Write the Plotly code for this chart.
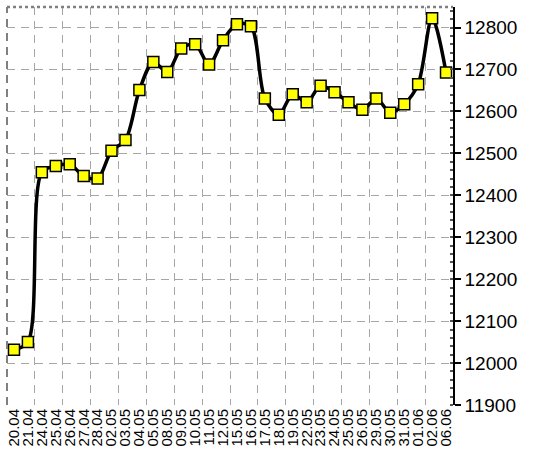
import plotly.graph_objects as go

dates = ["20.04", "21.04", "24.04", "25.04", "26.04", "27.04", "28.04",
         "02.05", "03.05", "04.05", "05.05", "08.05", "09.05", "10.05",
         "11.05", "12.05", "15.05", "16.05", "17.05", "18.05", "19.05",
         "22.05", "23.05", "24.05", "25.05", "26.05", "29.05", "30.05",
         "31.05", "01.06", "02.06", "06.06"]
values = [12032, 12050, 12455, 12470, 12474, 12446, 12440,
          12506, 12532, 12651, 12718, 12694, 12750, 12760,
          12712, 12770, 12808, 12803, 12631, 12592, 12641,
          12622, 12661, 12646, 12622, 12604, 12631, 12597,
          12617, 12665, 12822, 12693]
y_ticks = [11900, 12000, 12100, 12200, 12300, 12400, 12500, 12600, 12700, 12800]
y_range = [11900, 12849]

idx = list(range(len(dates)))
grid_x = [i - 0.5 for i in range(0, len(dates), 2)]
grid_col = "#a6a6a6"

fig = go.Figure()
fig.add_trace(go.Scatter(
    x=idx, y=values, mode="lines+markers",
    line=dict(color="black", width=3.5, shape="spline", smoothing=0.9),
    marker=dict(symbol="square", size=11, color="#ffff00",
                line=dict(color="black", width=1.5)),
    showlegend=False, hoverinfo="skip",
))

fig.update_layout(
    width=533, height=459,
    margin=dict(l=7, r=80, t=7, b=54),
    paper_bgcolor="white", plot_bgcolor="white",
    font=dict(family="Liberation Sans", color="black"),
    xaxis=dict(
        range=[-0.5, len(dates) - 0.5], automargin=False,
        tickmode="array", tickvals=idx, ticktext=dates,
        tickangle=-90, tickfont=dict(size=15, family="Liberation Sans"),
        showgrid=False, zeroline=False, showline=False, ticks="",
        ticklen=0,
        minor=dict(tickmode="array", tickvals=grid_x, showgrid=True,
                   gridcolor=grid_col, gridwidth=1, griddash="8px,6px",
                   ticks=""),
    ),
    yaxis=dict(
        range=y_range, side="right", automargin=False,
        tickmode="array", tickvals=y_ticks, tickformat="d",
        tickfont=dict(size=19, family="Liberation Sans"),
        showgrid=True, gridcolor=grid_col, gridwidth=1, griddash="8px,6px",
        zeroline=False, showline=True, linecolor="black", linewidth=1.5,
        ticks="outside", ticklen=6, tickcolor="black", tickwidth=1.5,
        minor=dict(dtick=20, ticks="inside", ticklen=3, tickcolor="#555555",
                   showgrid=False),
    ),
    shapes=[
        dict(type="line", xref="paper", yref="paper", x0=0, x1=1, y0=1, y1=1,
             line=dict(color="#808080", width=2.5, dash="dot")),
        dict(type="line", xref="paper", yref="paper", x0=0, x1=0, y0=0, y1=1,
             line=dict(color="#808080", width=2, dash="8px,6px")),
    ],
)

fig.write_html("out.html", config={"displayModeBar": False},
               post_script="document.body.style.margin='0';")
